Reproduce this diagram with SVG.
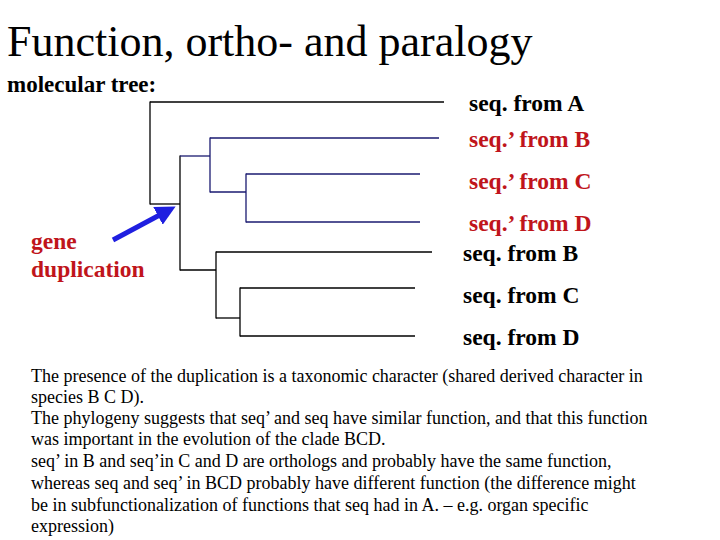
<svg xmlns="http://www.w3.org/2000/svg" width="720" height="540" viewBox="0 0 720 540">
<style>
text{font-family:"Liberation Serif",serif}
.lab{font-size:23.5px;font-weight:bold}
.r{fill:#c0151b}
.k{fill:#000}
.p{font-size:18px}
.t line{stroke:#000;stroke-width:1.3}
.t .n{stroke:#1a1a70}
.t .arr{stroke:#1f1fe0;stroke-width:5}
</style>
<defs><marker id="ah" markerWidth="4" markerHeight="4" refX="2.5" refY="2" orient="auto" markerUnits="strokeWidth"><path d="M0,0L4,2L0,4z" fill="#1f1fe0"/></marker></defs>
<rect width="720" height="540" fill="#fff"/>
<text x="7" y="56" font-size="44">Function, ortho- and paralogy</text>
<text x="7" y="92" font-size="23" font-weight="bold">molecular tree:</text>
<g id="connectors" class="t">
<line x1="150" y1="102" x2="444" y2="102"/>
<line x1="150" y1="101.4" x2="150" y2="204.6"/>
<line x1="150" y1="204" x2="180" y2="204"/>
<line x1="180" y1="155.4" x2="180" y2="270.6"/>
<line class="n" x1="180" y1="156" x2="210" y2="156"/>
<line class="n" x1="210" y1="137.4" x2="210" y2="192.6"/>
<line class="n" x1="210" y1="138" x2="439" y2="138"/>
<line class="n" x1="210" y1="192" x2="246" y2="192"/>
<line class="n" x1="246" y1="173.4" x2="246" y2="222.6"/>
<line class="n" x1="246" y1="174" x2="420" y2="174"/>
<line class="n" x1="246" y1="222" x2="420" y2="222"/>
<line x1="180" y1="270" x2="216" y2="270"/>
<line x1="216" y1="251.4" x2="216" y2="318.6"/>
<line x1="216" y1="252" x2="432" y2="252"/>
<line x1="216" y1="318" x2="240" y2="318"/>
<line x1="240" y1="287.4" x2="240" y2="336.6"/>
<line x1="240" y1="288" x2="415" y2="288"/>
<line x1="240" y1="336" x2="415" y2="336"/>
<line class="arr" x1="113" y1="240" x2="169" y2="210" marker-end="url(#ah)"/>
</g>
<g id="labels" class="lab">
<text x="469" y="111" class="k">seq. from A</text>
<text x="469" y="147" class="r">seq.’ from B</text>
<text x="469" y="189" class="r">seq.’ from C</text>
<text x="469" y="231" class="r">seq.’ from D</text>
<text x="463" y="261" class="k">seq. from B</text>
<text x="463" y="303" class="k">seq. from C</text>
<text x="463" y="345" class="k">seq. from D</text>
<text x="31" y="249" class="r">gene</text>
<text x="31" y="277" class="r">duplication</text>
</g>
<g class="p">
<text x="31" y="382">The presence of the duplication is a taxonomic character (shared derived character in</text>
<text x="31" y="403">species B C D).</text>
<text x="31" y="424">The phylogeny suggests that seq’ and seq have similar function, and that this function</text>
<text x="31" y="445">was important in the evolution of the clade BCD.</text>
<text x="31" y="467">seq’ in B and seq’in C and D are orthologs and probably have the same function,</text>
<text x="31" y="489">whereas seq and seq’ in BCD probably have different function (the difference might</text>
<text x="31" y="511">be in subfunctionalization of functions that seq had in A. – e.g. organ specific</text>
<text x="31" y="532">expression)</text>
</g>
</svg>
